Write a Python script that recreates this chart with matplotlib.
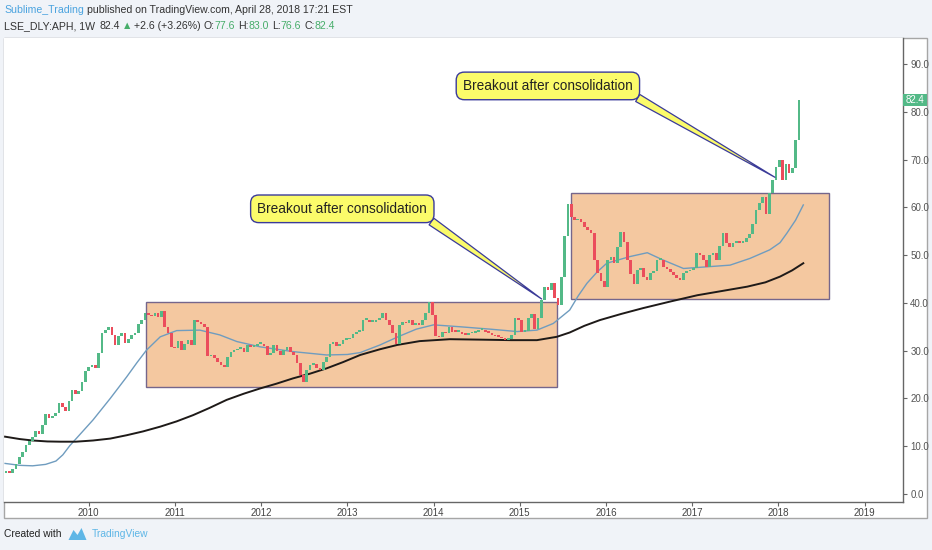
import numpy as np
import pandas as pd
import matplotlib
matplotlib.use("Agg")
import matplotlib.pyplot as plt
from matplotlib.patches import Rectangle, Polygon
from matplotlib.transforms import blended_transform_factory

# ---------------- data ----------------
first_open = 4.5
c2009 = [4.8, 4.5, 5.2, 6.3, 7.8, 8.8, 10.2, 11.0, 12.0, 13.2, 12.6, 14.5, 16.8, 16.0, 16.3, 17.0, 19.0, 18.2, 17.4, 19.5, 21.8, 21.0, 21.5, 23.5, 25.8]
c2010 = [26.6, 27.0, 26.4, 29.5, 33.8, 34.3, 35.0, 33.3, 31.2, 33.0, 33.6, 31.6, 32.5, 33.3, 33.6, 35.5, 36.4, 37.8, 37.5, 37.2, 37.8, 37.0, 38.2, 35.0, 33.6, 30.8]
c2011 = [30.5, 32.0, 30.2, 31.5, 32.2, 31.2, 36.5, 36.0, 35.6, 35.0, 28.8, 29.1, 28.4, 27.6, 27.0, 26.6, 28.7, 29.8, 30.1, 30.4, 30.5, 29.8, 31.2, 30.8, 31.0, 31.5]
c2012 = [31.5, 31.0, 29.1, 29.6, 31.2, 30.0, 29.1, 30.2, 30.8, 29.8, 29.1, 27.4, 25.0, 23.5, 26.0, 27.0, 27.2, 26.3, 26.0, 27.7, 28.7, 31.5, 31.8, 31.0, 31.4, 32.2]
c2013 = [32.4, 32.6, 33.5, 33.9, 34.2, 36.4, 36.4, 36.0, 36.1, 36.5, 36.8, 37.8, 36.4, 35.4, 33.6, 31.5, 35.4, 36.1, 35.7, 36.4, 35.4, 35.7, 35.4, 36.4, 37.8, 40.2]
c2014 = [37.5, 33.0, 32.8, 34.0, 33.6, 35.0, 34.0, 33.9, 34.0, 33.5, 33.3, 33.6, 33.8, 34.0, 34.3, 34.3, 34.0, 33.8, 33.3, 33.0, 32.9, 32.6, 32.2, 32.4, 33.3, 36.8]
c2015 = [36.5, 34.0, 34.2, 36.8, 37.6, 34.5, 36.8, 40.6, 43.4, 42.8, 44.1, 41.0, 39.5, 45.5, 54.0, 60.8, 58.0, 57.3, 57.6, 57.0, 55.9, 55.3, 54.6, 49.0, 46.2, 44.5]
c2016 = [43.4, 49.0, 49.7, 48.3, 51.8, 54.9, 52.8, 49.0, 46.0, 44.0, 46.8, 47.2, 45.5, 44.8, 46.2, 46.6, 49.0, 49.0, 47.6, 47.0, 46.4, 45.8, 45.2, 44.8, 46.2, 46.6]
c2017 = [46.9, 47.4, 50.4, 50.0, 49.0, 47.6, 50.0, 50.4, 49.0, 52.0, 54.6, 52.5, 51.8, 52.6, 52.8, 52.5, 52.8, 53.5, 54.5, 56.5, 59.5, 61.0, 62.2, 58.7, 62.9, 65.7]
c2018 = [68.5, 69.9, 65.8, 69.0, 67.1, 68.3, 74.0, 82.4]
start_date = "2009-01-16"

# moving averages (decimal year, value)
ma_fast_t = [2009.03, 2009.20, 2009.35, 2009.50, 2009.62, 2009.70, 2009.78, 2009.92, 2010.05, 2010.25,
             2010.44, 2010.56, 2010.67, 2010.83, 2011.02, 2011.29, 2011.52, 2011.72, 2011.99, 2012.37,
             2012.76, 2013.00, 2013.15, 2013.38, 2013.60, 2013.80, 2014.00, 2014.31, 2014.66, 2014.97,
             2015.20, 2015.39, 2015.58, 2015.68, 2015.78, 2015.90, 2016.01, 2016.28, 2016.48, 2016.66,
             2016.90, 2017.21, 2017.44, 2017.67, 2017.90, 2018.02, 2018.10, 2018.20, 2018.29]
ma_fast_v = [6.4, 6.0, 5.9, 6.2, 6.9, 8.2, 10.1, 12.9, 15.5, 20.0,
             24.5, 27.5, 30.1, 32.9, 34.2, 34.3, 33.3, 31.9, 30.8, 29.8,
             29.1, 29.2, 29.6, 31.2, 33.0, 34.5, 35.4, 35.0, 34.5, 34.0,
             34.3, 35.7, 38.5, 41.5, 44.1, 46.5, 48.3, 49.7, 50.5, 49.0,
             47.2, 47.6, 47.9, 49.3, 51.1, 52.6, 54.6, 57.3, 60.5]
ma_slow_t = [2009.03, 2009.20, 2009.35, 2009.52, 2009.67, 2009.85, 2010.05, 2010.25, 2010.44, 2010.63,
             2010.83, 2011.02, 2011.21, 2011.40, 2011.60, 2011.80, 2011.99, 2012.18, 2012.37, 2012.57,
             2012.76, 2012.95, 2013.15, 2013.38, 2013.58, 2013.84, 2014.19, 2014.57, 2014.90, 2015.20,
             2015.43, 2015.58, 2015.75, 2015.93, 2016.18, 2016.43, 2016.75, 2017.06, 2017.35, 2017.64,
             2017.85, 2018.02, 2018.16, 2018.29]
ma_slow_v = [12.0, 11.5, 11.2, 11.0, 10.95, 10.95, 11.2, 11.6, 12.3, 13.1,
             14.1, 15.2, 16.5, 18.0, 19.7, 21.0, 22.1, 23.1, 24.2, 25.2,
             26.3, 27.6, 29.1, 30.3, 31.2, 32.0, 32.4, 32.3, 32.2, 32.2,
             32.9, 33.8, 35.2, 36.4, 37.7, 38.9, 40.3, 41.6, 42.5, 43.4,
             44.3, 45.5, 46.8, 48.3]

# consolidation zones: (start year, end year, low, high)
zone_start = [2010.665, 2015.599]
zone_end = [2015.433, 2018.585]
zone_low = [22.3, 40.9]
zone_high = [40.1, 63.1]

# callouts: text, text centre (year, price), tip (year, price)
callout_text = ["Breakout after consolidation", "Breakout after consolidation"]
callout_center = [(2012.942, 59.69), (2015.327, 85.41)]
callout_tip = [(2015.255, 40.81), (2017.962, 66.28)]

year_ticks = list(range(2010, 2020))
price_ticks = [0, 10, 20, 30, 40, 50, 60, 70, 80, 90]

hdr_user = "Sublime_Trading"
hdr_pub = "published on TradingView.com, April 28, 2018 17:21 EST"
hdr_symbol = "LSE_DLY:APH, 1W"
hdr_last = "82.4"
hdr_change = "+2.6 (+3.26%)"
hdr_o, hdr_h, hdr_l, hdr_c = "77.6", "83.0", "76.6", "82.4"
last_price = 82.4

# ---------------- build ----------------
closes = np.array(c2009 + c2010 + c2011 + c2012 + c2013 + c2014 + c2015 + c2016 + c2017 + c2018)
opens = np.concatenate([[first_open], closes[:-1]])
dates = pd.date_range(start_date, periods=len(closes), freq="14D")
t = dates.year + (dates.dayofyear - 1) / np.where(dates.is_leap_year, 366.0, 365.0)
t = np.asarray(t, dtype=float)

plt.rcParams["font.family"] = ["Liberation Sans", "DejaVu Sans"]

W, H = 932, 550
fig = plt.figure(figsize=(W / 100, H / 100), dpi=100)
fig.patch.set_facecolor("#f0f3f8")

# outer chart frame
fig.add_artist(Rectangle((4 / W, 1 - 518 / H), (927 - 4) / W, (518 - 38) / H,
                         transform=fig.transFigure, facecolor="white",
                         edgecolor="#a6a6a6", lw=1.0, zorder=-5))

ax = fig.add_axes([4 / W, 1 - 501.7 / H, (903.3 - 4) / W, (501.7 - 38) / H])
ax.set_facecolor("white")
ax.set_xlim(2009.0174, 2019.4501)
ax.set_ylim(-1.61, 95.44)

# zones
for x0, x1, lo, hi in zip(zone_start, zone_end, zone_low, zone_high):
    ax.add_patch(Rectangle((x0, lo), x1 - x0, hi - lo, facecolor="#f4c8a0",
                           edgecolor="#75668c", lw=1.0, zorder=1))

# moving averages
ax.plot(ma_fast_t, ma_fast_v, color="#6f9cbf", lw=1.0, zorder=2,
        solid_joinstyle="round")
ax.plot(ma_slow_t, ma_slow_v, color="#1e1a18", lw=1.4, zorder=2,
        solid_joinstyle="round")

# candles
up = closes >= opens
cols = np.where(up, "#53b987", "#eb4d5c")
body_lo = np.minimum(opens, closes)
body_h = np.maximum(np.abs(closes - opens), 0.35)
ax.bar(t, body_h, bottom=body_lo, width=0.8 * 14 / 365.25, color=cols,
       linewidth=0, zorder=3, align="center")

# callouts
for txt, (cx, cy), (tx, ty) in zip(callout_text, callout_center, callout_tip):
    ax.annotate(txt, xy=(tx, ty), xytext=(cx, cy), textcoords="data",
                ha="center", va="center", fontsize=9.8, color="#222222",
                bbox=dict(boxstyle="round,pad=0.5,rounding_size=0.6",
                          fc="#fbfb6a", ec="#3a3a9a", lw=1.0),
                arrowprops=dict(arrowstyle="wedge,tail_width=0.6,shrink_factor=0.5",
                                fc="#fbfb6a", ec="#3a3a9a", lw=0.9,
                                relpos=(0.975, 0.02), shrinkA=0, shrinkB=0),
                zorder=5)

# axes styling
for s in ["left", "top"]:
    ax.spines[s].set_visible(False)
for s in ["right", "bottom"]:
    ax.spines[s].set_color("#666666")
    ax.spines[s].set_linewidth(1.0)
ax.yaxis.tick_right()
ax.set_yticks(price_ticks)
ax.set_yticklabels([f"{v:.1f}" for v in price_ticks])
ax.set_xticks(year_ticks)
ax.set_xticklabels([str(y) for y in year_ticks])
ax.tick_params(axis="y", direction="out", length=3, width=0.8, color="#666666",
               labelsize=7, labelcolor="#555555", pad=2)
ax.tick_params(axis="x", direction="out", length=3, width=0.8, color="#666666",
               labelsize=7, labelcolor="#444444", pad=1.5)

# last price label on price axis
bt = blended_transform_factory(ax.transAxes, ax.transData)
lab_h = 12 / 4.778
ax.add_patch(Rectangle((1.0, last_price - lab_h / 2), 24 / 899.3, lab_h, transform=bt,
                       facecolor="#53b987", edgecolor="none", clip_on=False, zorder=6))
ax.text(1.0 + 12 / 899.3, last_price, f"{last_price:.1f}", transform=bt, ha="center",
        va="center", color="white", fontsize=7, zorder=7, clip_on=False)

# header texts
renderer = fig.canvas.get_renderer()


def put_seq(items, x_px, y_px, size):
    x = x_px
    for s, col, gap in items:
        tt = fig.text(x / W, 1 - y_px / H, s, color=col, fontsize=size,
                      ha="left", va="center")
        bb = tt.get_window_extent(renderer)
        x = bb.x1 + gap
    return x


dark = "#333333"
green = "#47ad6a"
blue = "#4aa3df"
put_seq([(hdr_user, blue, 3), (hdr_pub, dark, 0)], 4, 10, 7.6)
put_seq([(hdr_symbol, dark, 4), (hdr_last, dark, 2), ("\u25b2", green, 2),
         (hdr_change, dark, 3), ("O:", dark, 0), (hdr_o, green, 3),
         ("H:", dark, 0), (hdr_h, green, 3), ("L:", dark, 0), (hdr_l, green, 3),
         ("C:", dark, 0), (hdr_c, green, 0)], 4, 26, 7.6)

# footer
xe = put_seq([("Created with", "#222222", 0)], 4, 534, 7.4)
ix = xe + 7
icon = [(0, 6), (5, -4), (9, 1), (13, -6), (18, 6)]
fig.add_artist(Polygon([((ix + dx) / W, 1 - (534 + dy) / H) for dx, dy in icon],
                       closed=True, transform=fig.transFigure,
                       facecolor="#5eb6e6", edgecolor="none"))
put_seq([("TradingView", "#5eb6e6", 0)], ix + 23, 534, 7.4)

fig.savefig("out.png", dpi=100, facecolor=fig.get_facecolor())
